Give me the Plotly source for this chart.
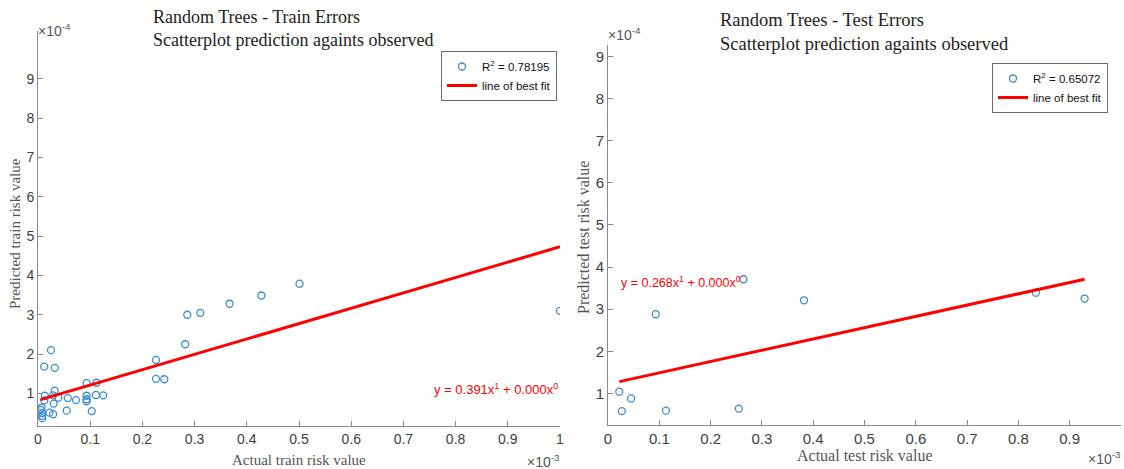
import numpy as np
import plotly.graph_objects as go

# ---------------- data (x in 1e-3 units, y in 1e-4 units) -------------
train_actual = [0.007, 0.005, 0.008, 0.008, 0.008, 0.012, 0.013, 0.012, 0.025, 0.032,
                0.032, 0.029, 0.039, 0.030, 0.022, 0.029, 0.057, 0.073, 0.055, 0.093,
                0.093, 0.093, 0.093, 0.112, 0.111, 0.125, 0.103, 0.226, 0.226, 0.242,
                0.282, 0.286, 0.311, 0.367, 0.428, 0.501, 1.000]
train_pred = [0.64, 0.58, 0.50, 0.43, 0.37, 0.82, 0.94, 1.68, 2.10, 1.65,
              1.07, 0.95, 0.89, 0.74, 0.51, 0.47, 0.88, 0.83, 0.56, 1.26,
              0.94, 0.85, 0.80, 1.27, 0.96, 0.95, 0.55, 1.85, 1.37, 1.36,
              2.25, 3.00, 3.05, 3.28, 3.49, 3.79, 3.10]
test_actual = [0.022, 0.027, 0.045, 0.093, 0.113, 0.255, 0.264, 0.382, 0.834, 0.929]
test_pred = [1.04, 0.58, 0.88, 2.88, 0.59, 0.64, 3.71, 3.21, 3.39, 3.25]

train_fit = {"slope": 0.391, "intercept": 0.82e-4, "r2": "0.78195"}
test_fit = {"slope": 0.268, "intercept": 1.22e-4, "r2": "0.65072"}

x_tick_vals = [i / 10 for i in range(11)]
x_tick_text = ["0", "0.1", "0.2", "0.3", "0.4", "0.5", "0.6", "0.7", "0.8", "0.9", "1"]
y_tick_vals = list(range(1, 10))
y_tick_text = [str(v) for v in y_tick_vals]

XS, YS = 1e-3, 1e-4

W, H = 1124, 469
def px(x):
    return x / W
def py(y):
    return (H - y) / H

MARK = "#3a8bd6"
RED = "#ff0000"
AX = "#8a8a8a"
SANS = "Liberation Sans, Arial"
SERIF = "Liberation Serif, Times New Roman, serif"

fig = go.Figure()

def add_panel(ax_x, ax_y, xa, ya, fit, legend):
    xa_arr = np.array(xa) * XS
    ya_arr = np.array(ya) * YS
    fig.add_trace(go.Scatter(
        x=xa_arr, y=ya_arr, mode="markers",
        marker=dict(symbol="circle-open", size=7, color=MARK, line=dict(width=1.3, color=MARK)),
        name="R<sup>2</sup> = " + fit["r2"], xaxis=ax_x, yaxis=ax_y, legend=legend,
    ))
    lx = np.array([xa_arr.min(), xa_arr.max()])
    ly = fit["slope"] * lx + fit["intercept"]
    fig.add_trace(go.Scatter(
        x=lx, y=ly, mode="lines", line=dict(color=RED, width=3),
        name="line of best fit", xaxis=ax_x, yaxis=ax_y, legend=legend,
    ))

add_panel("x", "y", train_actual, train_pred, train_fit, "legend")
add_panel("x2", "y2", test_actual, test_pred, test_fit, "legend2")

def axis_x(size):
    return dict(
        tickvals=[v * XS for v in x_tick_vals], ticktext=x_tick_text,
        ticks="inside", ticklen=5, tickcolor=AX, showline=True, linecolor=AX, linewidth=1,
        showgrid=False, zeroline=False, tickfont=dict(family=SANS, size=size, color="#404040"),
        mirror=False, automargin=False,
    )

def axis_y(size):
    return dict(
        tickvals=[v * YS for v in y_tick_vals], ticktext=y_tick_text,
        ticks="inside", ticklen=5, tickcolor=AX, showline=True, linecolor=AX, linewidth=1,
        showgrid=False, zeroline=False, tickfont=dict(family=SANS, size=size, color="#404040"),
        mirror=False, automargin=False,
    )

legend_style = dict(
    bgcolor="white", bordercolor="#6a6a6a", borderwidth=1,
    font=dict(family=SANS, size=11.5, color="#111"),
    xanchor="right", yanchor="top", tracegroupgap=0, itemwidth=30,
)

fig.update_layout(
    width=W, height=H, margin=dict(l=0, r=0, t=0, b=0),
    paper_bgcolor="white", plot_bgcolor="white",
    xaxis=dict(domain=[px(38), px(560)], range=[0, 1.0 * XS], anchor="y", **axis_x(14)),
    yaxis=dict(domain=[py(426), py(31)], range=[0.17 * YS, 10.22 * YS], anchor="x", **axis_y(14)),
    xaxis2=dict(domain=[px(608), px(1121)], range=[0, 1.0 * XS], anchor="y2", **axis_x(15)),
    yaxis2=dict(domain=[py(425), py(45)], range=[0.25 * YS, 9.27 * YS], anchor="x2", **axis_y(15)),
    legend=dict(x=px(557), y=py(51), **legend_style),
    legend2=dict(x=px(1108), y=py(63), **legend_style),
    showlegend=True,
)

ann = []
# titles
ann.append(dict(text="Random Trees - Train Errors<br>Scatterplot prediction againts observed",
                x=px(151), y=py(5), xref="paper", yref="paper", xanchor="left", yanchor="top",
                align="left", showarrow=False, font=dict(family=SERIF, size=18, color="#222")))
ann.append(dict(text="Random Trees - Test Errors<br>Scatterplot prediction againts observed",
                x=px(718), y=py(8), xref="paper", yref="paper", xanchor="left", yanchor="top",
                align="left", showarrow=False, font=dict(family=SERIF, size=18.5, color="#222")))
# axis titles
AT = dict(xref="paper", yref="paper", xanchor="center", yanchor="middle", showarrow=False)
ann.append(dict(text="Actual train risk value", x=px(299), y=py(460),
                font=dict(family=SERIF, size=15, color="#555"), **AT))
ann.append(dict(text="Actual test risk value", x=px(865), y=py(455),
                font=dict(family=SERIF, size=16, color="#555"), **AT))
ann.append(dict(text="Predicted train risk value", x=px(15), y=py(234), textangle=-90,
                font=dict(family=SERIF, size=15, color="#555"), **AT))
ann.append(dict(text="Predicted test risk value", x=px(583), y=py(238), textangle=-90,
                font=dict(family=SERIF, size=16, color="#555"), **AT))
# exponents
EXPF = dict(family=SANS, size=14, color="#555")
ann.append(dict(text="\u00d710<sup>-4</sup>", x=px(36), y=py(30), xref="paper", yref="paper",
                xanchor="left", yanchor="middle", showarrow=False, font=EXPF))
ann.append(dict(text="\u00d710<sup>-4</sup>", x=px(606), y=py(34), xref="paper", yref="paper",
                xanchor="left", yanchor="middle", showarrow=False, font=EXPF))
ann.append(dict(text="\u00d710<sup>-3</sup>", x=px(562), y=py(461), xref="paper", yref="paper",
                xanchor="right", yanchor="middle", showarrow=False, font=EXPF))
ann.append(dict(text="\u00d710<sup>-3</sup>", x=px(1123), y=py(458), xref="paper", yref="paper",
                xanchor="right", yanchor="middle", showarrow=False, font=EXPF))
# equations
ann.append(dict(text="y = %.3fx<sup>1</sup> + 0.000x<sup>0</sup>" % train_fit["slope"],
                x=1.0 * XS, y=1.11 * YS, xref="x", yref="y", xanchor="right", yanchor="middle",
                showarrow=False, font=dict(family=SANS, size=13, color=RED)))
ann.append(dict(text="y = %.3fx<sup>1</sup> + 0.000x<sup>0</sup>" % test_fit["slope"],
                x=0.022 * XS, y=3.65 * YS, xref="x2", yref="y2", xanchor="left", yanchor="middle",
                showarrow=False, font=dict(family=SANS, size=12.5, color=RED)))
fig.update_layout(annotations=ann)

fig.write_html("out.html", config={"displayModeBar": False},
               post_script="document.body.style.margin='0';document.body.style.overflow='hidden';")
